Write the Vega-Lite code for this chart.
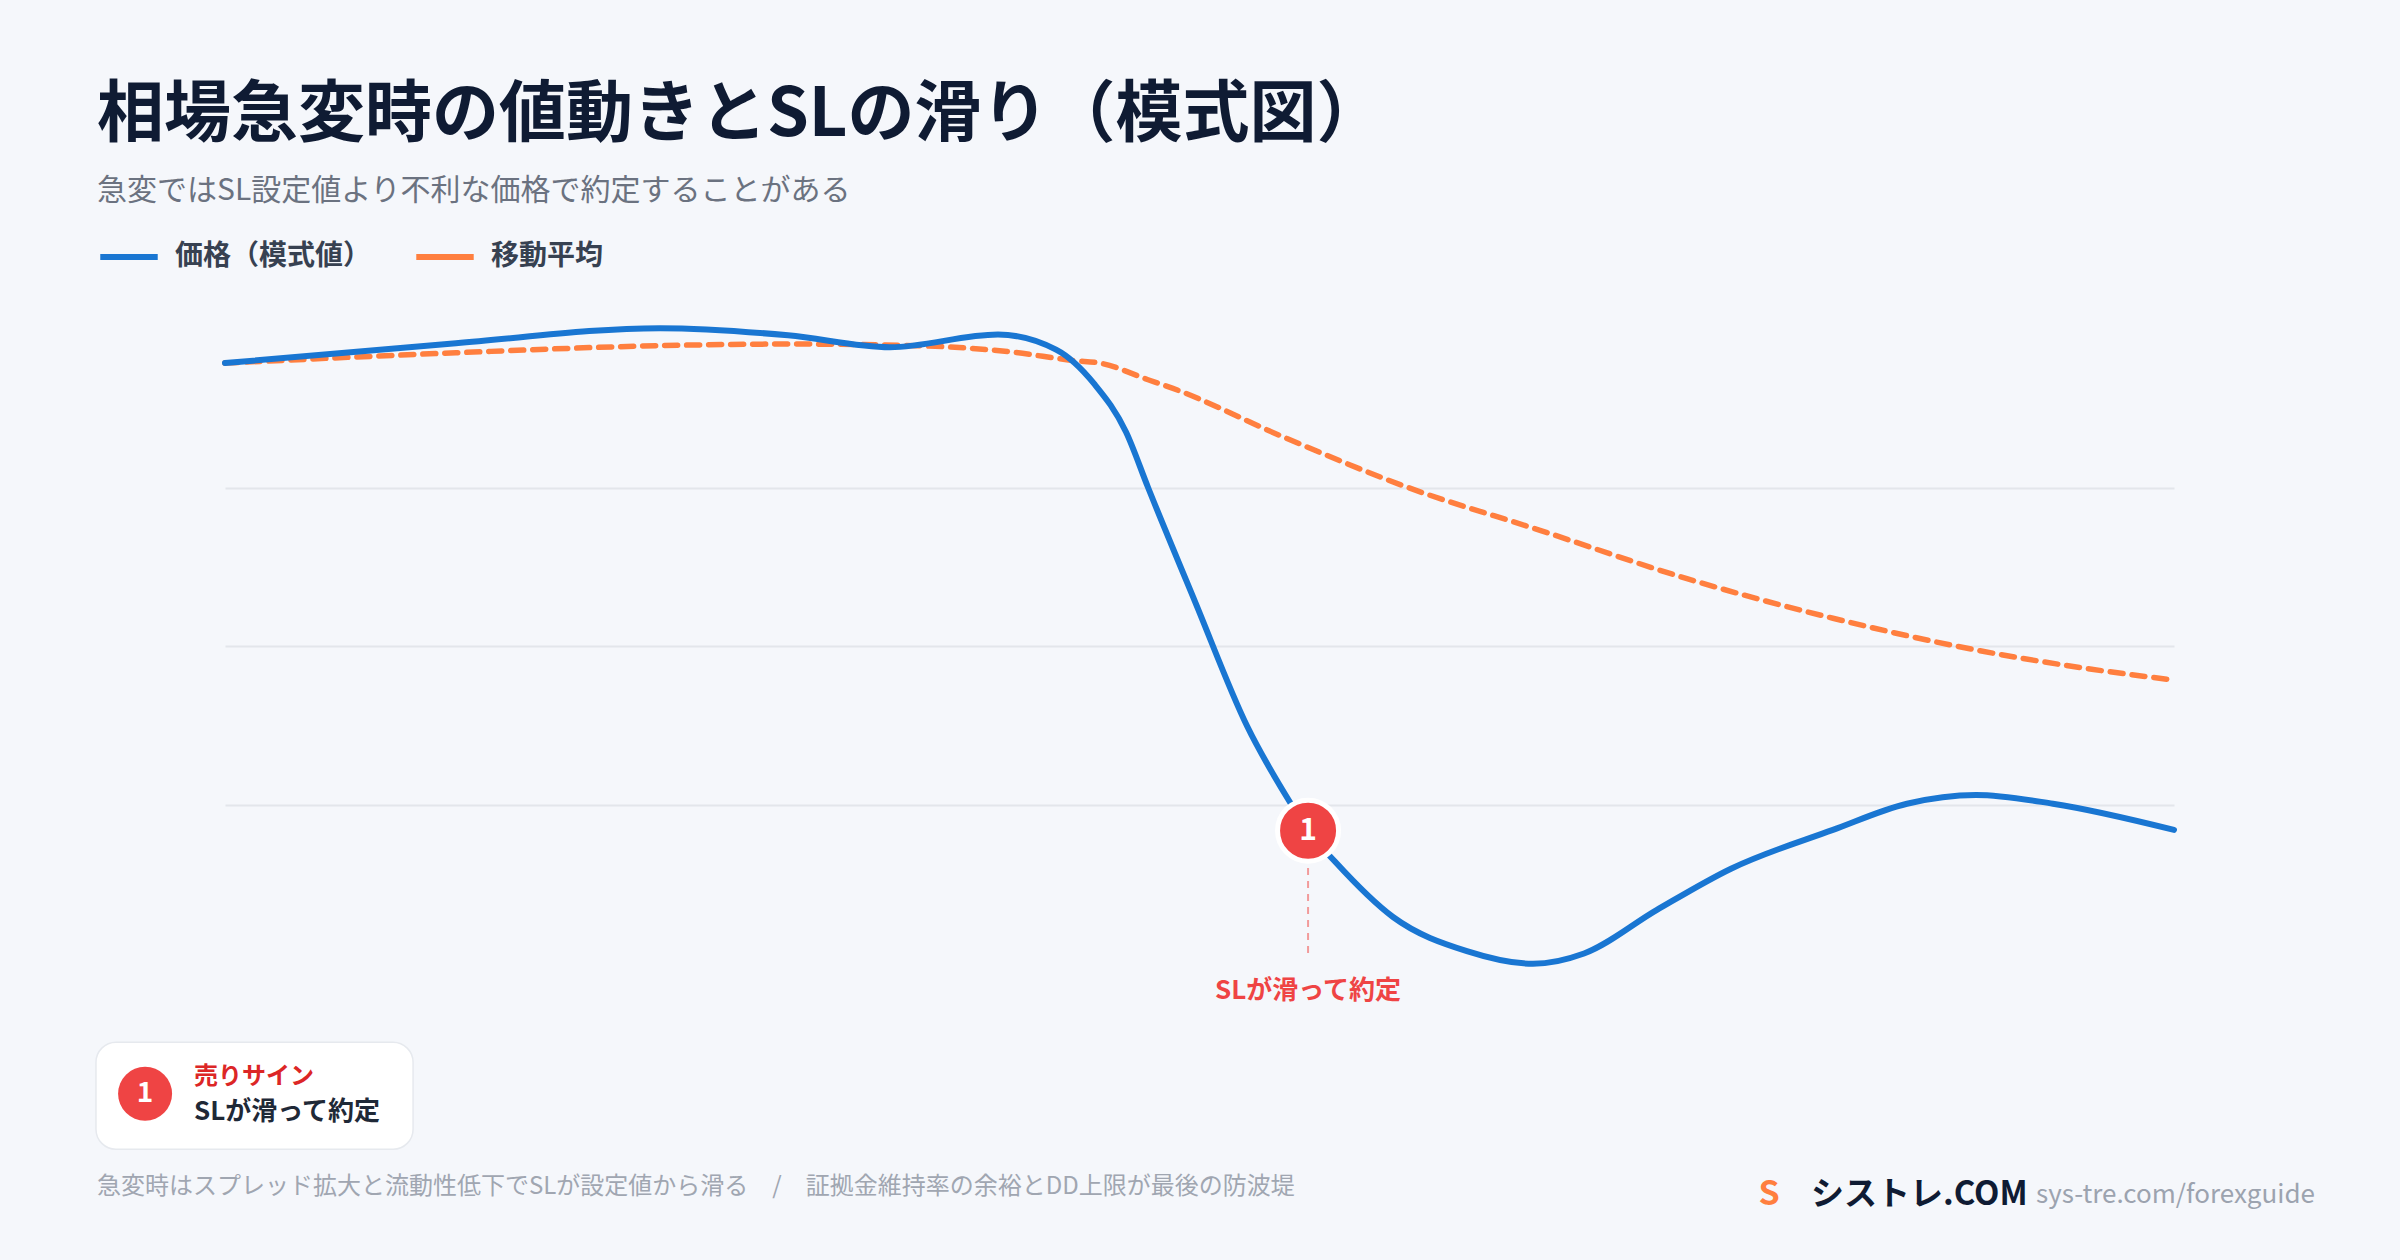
{
  "$schema": "https://vega.github.io/schema/vega-lite/v6.json",
  "width": 1949,
  "height": 634,
  "autosize": "none",
  "padding": {"left": 225, "top": 329, "right": 226, "bottom": 297},
  "background": "#F5F7FB",
  "config": {
    "view": {"stroke": null},
    "font": "Noto Sans CJK JP",
    "text": {"font": "Noto Sans CJK JP"}
  },
  "title": {
    "text": "相場急変時の値動きとSLの滑り（模式図）",
    "subtitle": "急変ではSL設定値より不利な価格で約定することがある",
    "anchor": "start",
    "frame": "group",
    "dx": -128,
    "offset": 18,
    "font": "Noto Sans CJK JP",
    "fontSize": 67,
    "fontWeight": "bold",
    "color": "#0F1B33",
    "subtitleFont": "Noto Sans CJK JP",
    "subtitleFontSize": 30,
    "subtitleColor": "#6B7280",
    "subtitlePadding": 26
  },
  "datasets": {
    "price": [
      {"t": 0, "v": 107.57}, {"t": 11.85, "v": 107.82}, {"t": 22.32, "v": 108.01},
      {"t": 28.89, "v": 107.92}, {"t": 34.12, "v": 107.77}, {"t": 39.66, "v": 107.93},
      {"t": 42.64, "v": 107.74}, {"t": 44.59, "v": 107.31}, {"t": 46.23, "v": 106.7},
      {"t": 47.36, "v": 106.0}, {"t": 49.77, "v": 104.56}, {"t": 52.44, "v": 102.99},
      {"t": 54.69, "v": 102.01}, {"t": 55.57, "v": 101.67}, {"t": 56.95, "v": 101.28},
      {"t": 59.93, "v": 100.58}, {"t": 63.72, "v": 100.15}, {"t": 67.11, "v": 99.99},
      {"t": 69.73, "v": 100.12}, {"t": 73.47, "v": 100.67}, {"t": 77.27, "v": 101.19},
      {"t": 82.5, "v": 101.68}, {"t": 86.3, "v": 102.01}, {"t": 89.84, "v": 102.12},
      {"t": 93.79, "v": 102.01}, {"t": 100, "v": 101.68}
    ],
    "ma": [
      {"t": 0, "v": 107.57}, {"t": 11.85, "v": 107.7}, {"t": 22.32, "v": 107.79},
      {"t": 28.89, "v": 107.81}, {"t": 35.4, "v": 107.79}, {"t": 40.33, "v": 107.71},
      {"t": 43.61, "v": 107.6}, {"t": 44.89, "v": 107.57}, {"t": 47.36, "v": 107.36},
      {"t": 48.64, "v": 107.25}, {"t": 54.28, "v": 106.64}, {"t": 60.7, "v": 106.0},
      {"t": 67.47, "v": 105.46}, {"t": 75.01, "v": 104.85}, {"t": 82.5, "v": 104.35},
      {"t": 90.05, "v": 103.94}, {"t": 95.69, "v": 103.71}, {"t": 100, "v": 103.57}
    ],
    "marker": [{"t": 55.57, "v": 101.67, "n": "1"}],
    "markerLine": [{"t": 55.57, "v": 101.2, "v2": 100.05}],
    "note": [{"t": 55.57, "v": 99.65, "label": "SLが滑って約定"}],
    "box": [{"t": -6.62, "t2": 9.65, "v": 99.0, "v2": 97.65}],
    "boxBadge": [{"t": -4.1, "v": 98.35, "n": "1"}],
    "boxTitle": [{"t": -1.59, "v": 98.56, "label": "売りサイン"}],
    "boxText": [{"t": -1.59, "v": 98.12, "label": "SLが滑って約定"}],
    "footer": [{"t": -6.57, "v": 97.17, "label": "急変時はスプレッド拡大と流動性低下でSLが設定値から滑る　/　証拠金維持率の余裕とDD上限が最後の防波堤"}],
    "logo": [{"t": 79.22, "v": 97.07, "label": "S"}],
    "brand": [{"t": 81.37, "v": 97.07, "label": "シストレ.COM"}],
    "url": [{"t": 92.92, "v": 97.07, "label": "sys-tre.com/forexguide"}]
  },
  "encoding": {
    "x": {"field": "t", "type": "quantitative", "scale": {"domain": [0, 100], "nice": false, "zero": false}, "axis": null},
    "y": {
      "field": "v",
      "type": "quantitative",
      "scale": {"domain": [100, 108], "nice": false, "zero": false},
      "axis": {
        "values": [102, 104, 106],
        "grid": true,
        "gridColor": "#E3E6EB",
        "gridWidth": 2,
        "labels": false,
        "ticks": false,
        "domain": false,
        "title": null
      }
    }
  },
  "layer": [
    {
      "data": {"name": "box"},
      "mark": {"type": "rect", "fill": "#FFFFFF", "stroke": "#E6E9EE", "strokeWidth": 1.5, "cornerRadius": 20},
      "encoding": {"x2": {"field": "t2"}, "y2": {"field": "v2"}}
    },
    {
      "data": {"name": "ma"},
      "mark": {"type": "line", "interpolate": "monotone", "strokeWidth": 5.5, "strokeDash": [13, 9], "strokeCap": "round"},
      "encoding": {
        "color": {
          "datum": "移動平均",
          "scale": {"domain": ["価格（模式値）", "移動平均"], "range": ["#1976D2", "#FF7F3F"]},
          "legend": {
            "orient": "none",
            "legendX": -128,
            "legendY": -104,
            "direction": "horizontal",
            "title": null,
            "symbolType": "stroke",
            "symbolSize": 3300,
            "symbolStrokeWidth": 6,
            "symbolDash": [1, 0],
            "labelFont": "Noto Sans CJK JP",
            "labelFontSize": 28,
            "labelFontWeight": "bold",
            "labelColor": "#374151",
            "labelLimit": 400,
            "labelOffset": 14,
            "columnPadding": 32
          }
        }
      }
    },
    {
      "data": {"name": "price"},
      "mark": {"type": "line", "interpolate": "monotone", "strokeWidth": 6, "strokeCap": "round"},
      "encoding": {"color": {"datum": "価格（模式値）"}}
    },
    {
      "data": {"name": "markerLine"},
      "mark": {"type": "rule", "color": "#F29B9B", "strokeWidth": 2, "strokeDash": [7, 6]},
      "encoding": {"y2": {"field": "v2"}}
    },
    {
      "data": {"name": "marker"},
      "mark": {"type": "point", "shape": "circle", "filled": true, "fill": "#EF4444", "stroke": "#FFFFFF", "strokeWidth": 5, "size": 3721, "opacity": 1}
    },
    {
      "data": {"name": "marker"},
      "mark": {"type": "text", "color": "#FFFFFF", "fontSize": 30, "fontWeight": "bold", "align": "center", "baseline": "middle"},
      "encoding": {"text": {"field": "n"}}
    },
    {
      "data": {"name": "note"},
      "mark": {"type": "text", "color": "#EF4444", "fontSize": 26, "fontWeight": "bold", "align": "center", "baseline": "middle"},
      "encoding": {"text": {"field": "label"}}
    },
    {
      "data": {"name": "boxBadge"},
      "mark": {"type": "point", "shape": "circle", "filled": true, "fill": "#EF4444", "strokeWidth": 0, "size": 2916, "opacity": 1}
    },
    {
      "data": {"name": "boxBadge"},
      "mark": {"type": "text", "color": "#FFFFFF", "fontSize": 28, "fontWeight": "bold", "align": "center", "baseline": "middle"},
      "encoding": {"text": {"field": "n"}}
    },
    {
      "data": {"name": "boxTitle"},
      "mark": {"type": "text", "color": "#DC2626", "fontSize": 24, "fontWeight": "bold", "align": "left", "baseline": "middle"},
      "encoding": {"text": {"field": "label"}}
    },
    {
      "data": {"name": "boxText"},
      "mark": {"type": "text", "color": "#1F2937", "fontSize": 26, "fontWeight": "bold", "align": "left", "baseline": "middle"},
      "encoding": {"text": {"field": "label"}}
    },
    {
      "data": {"name": "footer"},
      "mark": {"type": "text", "color": "#A0A6B1", "fontSize": 24, "align": "left", "baseline": "middle"},
      "encoding": {"text": {"field": "label"}}
    },
    {
      "data": {"name": "logo"},
      "mark": {"type": "text", "color": "#FF7F3F", "fontSize": 34, "fontWeight": "bold", "align": "center", "baseline": "middle"},
      "encoding": {"text": {"field": "label"}}
    },
    {
      "data": {"name": "brand"},
      "mark": {"type": "text", "color": "#0F1B33", "fontSize": 33, "fontWeight": "bold", "align": "left", "baseline": "middle"},
      "encoding": {"text": {"field": "label"}}
    },
    {
      "data": {"name": "url"},
      "mark": {"type": "text", "color": "#9CA3AF", "fontSize": 26, "align": "left", "baseline": "middle"},
      "encoding": {"text": {"field": "label"}}
    }
  ]
}
